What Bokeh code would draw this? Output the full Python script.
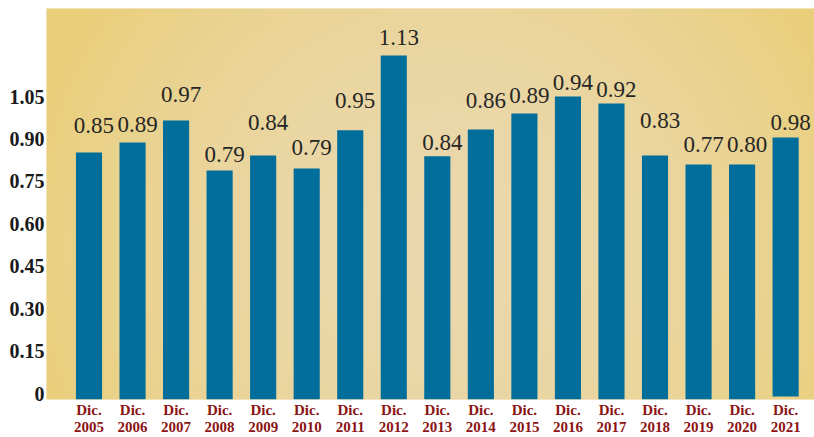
import numpy as np
from bokeh.plotting import figure
from bokeh.models import ColumnDataSource, FixedTicker, Range1d, LinearAxis
from bokeh.core.properties import value
from bokeh.embed import file_html
from bokeh.resources import INLINE

# ---- data ----
x_labels = ["Dic.\n2005", "Dic.\n2006", "Dic.\n2007", "Dic.\n2008", "Dic.\n2009",
            "Dic.\n2010", "Dic.\n2011", "Dic.\n2012", "Dic.\n2013", "Dic.\n2014",
            "Dic.\n2015", "Dic.\n2016", "Dic.\n2017", "Dic.\n2018", "Dic.\n2019",
            "Dic.\n2020", "Dic.\n2021"]
bar_tops = [0.874, 0.909, 0.987, 0.810, 0.863, 0.817, 0.952, 1.217, 0.860,
            0.955, 1.012, 1.072, 1.047, 0.863, 0.831, 0.831, 0.927]
bar_bottoms = [0, 0, 0, 0, 0, 0, 0, 0, 0, 0, 0, 0, 0, 0, 0, 0, 0.011]
value_labels = ["0.85", "0.89", "0.97", "0.79", "0.84", "0.79", "0.95", "1.13", "0.84",
                "0.86", "0.89", "0.94", "0.92", "0.83", "0.77", "0.80", "0.98"]
label_heights = [0.941, 0.944, 1.051, 0.838, 0.952, 0.863, 1.029, 1.252, 0.881,
                 1.029, 1.047, 1.093, 1.068, 0.959, 0.874, 0.874, 0.952]
y_ticks = [0, 0.15, 0.30, 0.45, 0.60, 0.75, 0.90, 1.05]
y_tick_labels = ["0", "0.15", "0.30", "0.45", "0.60", "0.75", "0.90", "1.05"]

xs = list(range(len(x_labels)))
src = ColumnDataSource(dict(x=xs, top=bar_tops, bottom=bar_bottoms,
                            label=value_labels, label_y=label_heights))

X0, X1 = -0.976, 16.663
Y0, Y1 = 0.0, 1.383
LIFT = 0.0212  # y tick labels sit slightly above their gridline in the original

p = figure(width=814, height=437, output_backend="svg", toolbar_location=None,
           x_range=Range1d(X0, X1), y_range=Range1d(Y0, Y1),
           y_axis_location=None,
           min_border_left=46, min_border_right=0, min_border_top=8,
           min_border_bottom=38)
p.extra_y_ranges = {"lab": Range1d(Y0 - LIFT, Y1 - LIFT)}
p.outline_line_color = None
p.xgrid.grid_line_color = None
p.ygrid.grid_line_color = None
p.background_fill_color = "#ead49e"
p.border_fill_color = "white"

# ---- radial gradient background (style only) ----
W, H = 768, 391
cols = np.arange(W)[None, :] + 46.0
rows = 399.0 - np.arange(H)[:, None]
cx, cy, rx, ry = 445.0, 245.0, 430.0, 420.0
t = np.clip(np.sqrt(((cols - cx) / rx) ** 2 + ((rows - cy) / ry) ** 2), 0, 1) ** 2
c_in = np.array([235, 216, 172], dtype=float)
c_out = np.array([233, 207, 122], dtype=float)
rgb = c_in[None, None, :] * (1 - t[..., None]) + c_out[None, None, :] * t[..., None]
img = np.empty((H, W), dtype=np.uint32)
view = img.view(dtype=np.uint8).reshape((H, W, 4))
view[..., 0] = rgb[..., 0].astype(np.uint8)
view[..., 1] = rgb[..., 1].astype(np.uint8)
view[..., 2] = rgb[..., 2].astype(np.uint8)
view[..., 3] = 255
p.image_rgba(image=[img], x=X0, y=Y0, dw=X1 - X0, dh=Y1 - Y0)

p.vbar(x="x", top="top", bottom="bottom", width=0.6, source=src,
       fill_color="#006e9b", line_color=None)

# label_heights are the text baselines; centre the digits ~8px above them
p.text(x="x", y="label_y", text="label", source=src,
       text_font=value("Liberation Serif"), text_font_size="23px",
       text_align="center", text_baseline="middle", x_offset=5, y_offset=-8,
       text_color="#262626")

# ---- axes ----
p.xaxis.ticker = FixedTicker(ticks=xs)
p.xaxis.major_label_overrides = {i: lab for i, lab in zip(xs, x_labels)}
p.xaxis.major_label_text_font = "Liberation Serif"
p.xaxis.major_label_text_font_style = "bold"
p.xaxis.major_label_text_font_size = "15px"
p.xaxis.major_label_text_color = "#8b1414"
p.xaxis.major_label_text_line_height = 1.07
p.xaxis.major_label_standoff = 2
p.xaxis.major_tick_in = 0
p.xaxis.major_tick_out = 0
p.xaxis.axis_line_color = None
p.xaxis.major_tick_line_color = None
p.xaxis.minor_tick_line_color = None

yax = LinearAxis(y_range_name="lab", ticker=FixedTicker(ticks=y_ticks))
yax.major_label_overrides = {v: lab for v, lab in zip(y_ticks, y_tick_labels)}
yax.major_label_text_font = "Liberation Serif"
yax.major_label_text_font_style = "bold"
yax.major_label_text_font_size = "20px"
yax.major_label_text_color = "#1a1a1a"
yax.major_label_standoff = 2
yax.major_tick_in = 0
yax.major_tick_out = 0
yax.axis_line_color = None
yax.major_tick_line_color = None
yax.minor_tick_line_color = None
p.add_layout(yax, "left")

open("out.html", "w").write(file_html(p, INLINE))
